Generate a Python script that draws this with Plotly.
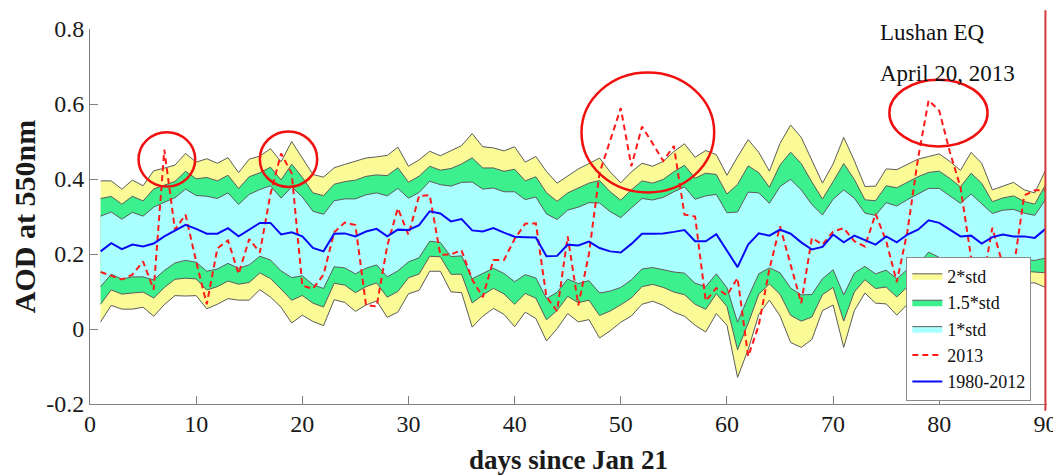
import numpy as np
import plotly.graph_objects as go

# ---------------- data ----------------
days = list(range(1, 91))

mean_1980_2012 = [
    0.207, 0.229, 0.213, 0.225, 0.220, 0.228, 0.247, 0.263, 0.278, 0.267,
    0.254, 0.254, 0.269, 0.247, 0.265, 0.283, 0.283, 0.252, 0.258, 0.247,
    0.216, 0.207, 0.254, 0.255, 0.247, 0.260, 0.267, 0.247, 0.265, 0.264,
    0.277, 0.314, 0.308, 0.287, 0.293, 0.263, 0.260, 0.269, 0.257, 0.246,
    0.245, 0.244, 0.194, 0.195, 0.225, 0.223, 0.233, 0.216, 0.207, 0.204,
    0.227, 0.254, 0.254, 0.255, 0.259, 0.264, 0.234, 0.234, 0.253, 0.210,
    0.165, 0.225, 0.255, 0.249, 0.265, 0.254, 0.231, 0.212, 0.219, 0.252,
    0.231, 0.249, 0.238, 0.225, 0.247, 0.231, 0.252, 0.265, 0.290, 0.283,
    0.265, 0.247, 0.249, 0.228, 0.245, 0.252, 0.247, 0.247, 0.243, 0.267,
]

std_1980_2012 = [
    0.094, 0.083, 0.080, 0.086, 0.081, 0.097, 0.091, 0.087, 0.095, 0.089,
    0.100, 0.094, 0.094, 0.085, 0.094, 0.089, 0.099, 0.097, 0.121, 0.105,
    0.098, 0.099, 0.088, 0.092, 0.100, 0.098, 0.096, 0.108, 0.110, 0.085,
    0.087, 0.080, 0.077, 0.094, 0.098, 0.129, 0.113, 0.107, 0.109, 0.120,
    0.100, 0.108, 0.113, 0.097, 0.092, 0.102, 0.104, 0.120, 0.106, 0.093,
    0.096, 0.094, 0.090, 0.096, 0.107, 0.115, 0.112, 0.121, 0.106, 0.100,
    0.147, 0.140, 0.108, 0.086, 0.115, 0.145, 0.140, 0.120, 0.085, 0.094,
    0.140, 0.100, 0.071, 0.078, 0.090, 0.097, 0.093, 0.094, 0.085, 0.092,
    0.091, 0.088, 0.111, 0.107, 0.063, 0.065, 0.072, 0.062, 0.060, 0.078,
]

aod_2013 = [
    0.152, 0.142, 0.132, 0.145, 0.180, 0.105, 0.478, 0.265, 0.305, 0.180,
    0.066, 0.215, 0.236, 0.147, 0.240, 0.204, 0.360, 0.468, 0.415, 0.116,
    0.107, 0.145, 0.258, 0.284, 0.277, 0.064, 0.060, 0.222, 0.322, 0.251,
    0.355, 0.357, 0.198, 0.199, 0.210, 0.132, 0.085, 0.184, 0.184, 0.240,
    0.281, 0.282, 0.085, 0.048, 0.247, 0.063, 0.200, 0.416, 0.505, 0.589,
    0.434, 0.540, 0.495, 0.448, 0.488, 0.305, 0.300, 0.075, 0.109, 0.090,
    0.136, -0.073, 0.010, 0.160, 0.274, 0.170, 0.069, 0.243, 0.225, 0.260,
    0.269, 0.234, 0.220, 0.307, 0.235, 0.125, 0.260, 0.455, 0.610, 0.582,
    0.472, 0.378, 0.190, 0.110, 0.270, 0.170, 0.160, 0.356, 0.370, 0.370,
]

x_tick_values = [0, 10, 20, 30, 40, 50, 60, 70, 80, 90]
y_tick_values = [-0.2, 0, 0.2, 0.4, 0.6, 0.8]
y_tick_labels = ["-0.2", "0", "0.2", "0.4", "0.6", "0.8"]

band_multipliers = [2.0, 1.5, 1.0]
band_names = ["2*std", "1.5*std", "1*std"]

earthquake_day = 90
annotation_lines = ["Lushan EQ", "April 20, 2013"]

# highlighted anomalies (x0, x1, y0, y1) in data units
highlight_boxes = [
    (4.57, 9.91, 0.380, 0.525),
    (16.0, 21.4, 0.379, 0.527),
    (46.3, 58.8, 0.364, 0.684),
    (75.3, 84.55, 0.487, 0.665),
]

# ---------------- styling ----------------
band_colors = ["#FAFA96", "#3DF08E", "#AAFFFF"]
edge_color = "#5c5c5c"
serif = "Liberation Serif"

mean_arr = np.array(mean_1980_2012)
std_arr = np.array(std_1980_2012)

fig = go.Figure()

for k, name, color in zip(band_multipliers, band_names, band_colors):
    upper = mean_arr + k * std_arr
    lower = mean_arr - k * std_arr
    fig.add_trace(go.Scatter(
        x=days + days[::-1],
        y=list(upper) + list(lower[::-1]),
        mode="lines",
        fill="toself",
        fillcolor=color,
        line=dict(color=edge_color, width=1),
        name=name,
        hoverinfo="skip",
    ))

fig.add_trace(go.Scatter(
    x=days, y=aod_2013, mode="lines", name="2013",
    line=dict(color="#FF1A1A", width=2, dash="6px,4px"),
))
fig.add_trace(go.Scatter(
    x=days, y=mean_1980_2012, mode="lines", name="1980-2012",
    line=dict(color="#0A0AF5", width=2),
))

shapes = []
for (x0, x1, y0, y1) in highlight_boxes:
    shapes.append(dict(type="circle", xref="x", yref="y", x0=x0, x1=x1, y0=y0, y1=y1,
                       line=dict(color="#F01010", width=2.5)))
shapes.append(dict(type="line", xref="x", yref="paper", x0=earthquake_day, x1=earthquake_day,
                   y0=-0.018, y1=1.05, line=dict(color="#D43A3A", width=2)))

annotations = [
    dict(text=annotation_lines[0], xref="paper", yref="paper", x=0.8235, y=0.99,
         xanchor="left", yanchor="middle", showarrow=False,
         font=dict(family=serif, size=23, color="#111")),
    dict(text=annotation_lines[1], xref="paper", yref="paper", x=0.8235, y=0.882,
         xanchor="left", yanchor="middle", showarrow=False,
         font=dict(family=serif, size=23, color="#111")),
]

# the page body adds an 8 px offset, so the figure is 8 px smaller than the window
fig.update_layout(
    width=1053, height=467,
    margin=dict(l=82, r=14, t=21, b=71, autoexpand=False),
    paper_bgcolor="white", plot_bgcolor="white",
    font=dict(family=serif, size=22, color="#1a1a1a"),
    shapes=shapes,
    annotations=annotations,
    showlegend=True,
    legend=dict(
        x=0.853, y=0.393, xanchor="left", yanchor="top",
        bgcolor="white", bordercolor="#8a8a8a", borderwidth=1,
        font=dict(family=serif, size=18, color="#111"),
        tracegroupgap=0, itemwidth=30,
    ),
    xaxis=dict(
        range=[0, 90.15], tickmode="array", tickvals=x_tick_values,
        ticks="inside", ticklen=8, tickcolor="#808080",
        showline=True, linecolor="#808080", linewidth=1,
        showgrid=False, zeroline=False, automargin=False,
        ticklabelstandoff=-2,
        tickfont=dict(family=serif, size=24, color="#1a1a1a"),
        title=dict(text="<b>days since Jan 21</b>", font=dict(family=serif, size=27, color="#1a1a1a")),
    ),
    yaxis=dict(
        range=[-0.2, 0.8], tickmode="array", tickvals=y_tick_values, ticktext=y_tick_labels,
        ticks="inside", ticklen=8, tickcolor="#808080",
        showline=True, linecolor="#808080", linewidth=1,
        showgrid=False, zeroline=False, automargin=False,
        tickfont=dict(family=serif, size=24, color="#1a1a1a"),
        title=dict(text="<b>AOD at 550nm</b>", font=dict(family=serif, size=30, color="#1a1a1a")),
    ),
)

fig.write_html("out.html")
